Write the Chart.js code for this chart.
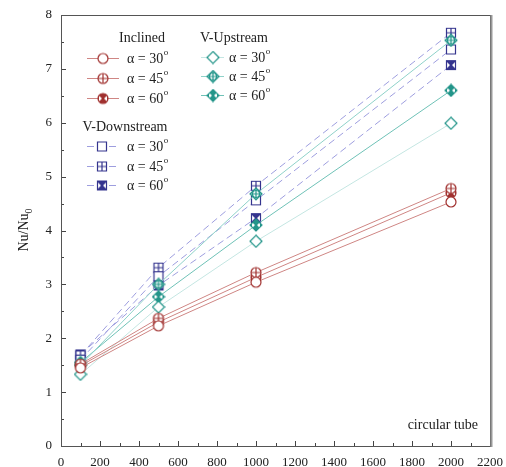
<!DOCTYPE html>
<html>
<head>
<meta charset="utf-8">
<script src="https://cdn.jsdelivr.net/npm/chart.js@4.4.0/dist/chart.umd.min.js"></script>
<style>
  html, body { margin: 0; padding: 0; background: #fff; }
</style>
</head>
<body>
<canvas id="graphCanvas" width="506" height="467"></canvas>
<script>
// Re values and Nu/Nu0 per configuration
var reynolds = [100, 500, 1000, 2000];
var inclined30 = [1.45, 2.23, 3.04, 4.53];
var inclined45 = [1.52, 2.37, 3.22, 4.78];
var inclined60 = [1.49, 2.30, 3.13, 4.70];
var upstream30 = [1.33, 2.58, 3.80, 5.99];
var upstream45 = [1.50, 3.00, 4.68, 7.53];
var upstream60 = [1.55, 2.77, 4.10, 6.60];
var downstream30 = [1.60, 3.15, 4.56, 7.36];
var downstream45 = [1.68, 3.31, 4.83, 7.67];
var downstream60 = [1.70, 2.98, 4.23, 7.07];
var xTicks = [0, 200, 400, 600, 800, 1000, 1200, 1400, 1600, 1800, 2000, 2200];
var yTicks = [0, 1, 2, 3, 4, 5, 6, 7, 8];
var angleLabels = ['\u03b1 = 30', '\u03b1 = 45', '\u03b1 = 60'];

var FONT = '"Liberation Serif", "DejaVu Serif", serif';
var RED = '#a0302e', TEAL = '#23958a', NAVY = '#34348e';

function shapePath(ctx, shape) {
  ctx.beginPath();
  if (shape === 'circle') {
    ctx.arc(7, 7, 5, 0, Math.PI * 2);
  } else if (shape === 'diamond') {
    ctx.moveTo(7, 1); ctx.lineTo(13, 7); ctx.lineTo(7, 13); ctx.lineTo(1, 7);
    ctx.closePath();
  } else {
    ctx.rect(2.5, 2.5, 9, 9);
  }
}

function makeMarker(shape, kind, color) {
  var c = document.createElement('canvas');
  c.width = 14; c.height = 14;
  var ctx = c.getContext('2d');
  ctx.strokeStyle = color;
  ctx.lineWidth = 1.2;
  shapePath(ctx, shape);
  ctx.fillStyle = (kind === 'hour') ? color : '#fff';
  ctx.fill();
  if (kind === 'plus') {
    ctx.save();
    shapePath(ctx, shape);
    ctx.clip();
    ctx.beginPath();
    ctx.moveTo(7, 0); ctx.lineTo(7, 14);
    ctx.moveTo(0, 7); ctx.lineTo(14, 7);
    ctx.stroke();
    if (shape === 'diamond') {
      ctx.beginPath();
      ctx.arc(7, 7, 3.5, 0, Math.PI * 2);
      ctx.stroke();
    }
    ctx.restore();
  } else if (kind === 'hour') {
    // white notches left and right, leaving an hourglass
    ctx.save();
    shapePath(ctx, shape);
    ctx.clip();
    ctx.fillStyle = '#fff';
    ctx.beginPath();
    ctx.moveTo(3, 4); ctx.lineTo(6, 7); ctx.lineTo(3, 10); ctx.closePath();
    ctx.moveTo(11, 4); ctx.lineTo(8, 7); ctx.lineTo(11, 10); ctx.closePath();
    ctx.fill();
    ctx.restore();
  }
  shapePath(ctx, shape);
  ctx.stroke();
  return c;
}

function series(label, data, marker, lineColor, dash) {
  return {
    label: label,
    data: data.map(function (v, i) { return { x: reynolds[i], y: v }; }),
    borderColor: lineColor,
    borderWidth: 1,
    borderDash: dash || [],
    pointStyle: marker,
    pointRadius: 6,
    pointHoverRadius: 6,
    fill: false,
    tension: 0
  };
}

var dsets = [
  series('Inclined 30', inclined30, makeMarker('circle', 'open', RED), '#cf8684'),
  series('Inclined 45', inclined45, makeMarker('circle', 'plus', RED), '#cf8684'),
  series('Inclined 60', inclined60, makeMarker('circle', 'hour', RED), '#cf8684'),
  series('V-Upstream 30', upstream30, makeMarker('diamond', 'open', TEAL), '#c4e6e2'),
  series('V-Upstream 45', upstream45, makeMarker('diamond', 'plus', TEAL), '#8fd2c9'),
  series('V-Upstream 60', upstream60, makeMarker('diamond', 'hour', TEAL), '#6fc2b7'),
  series('V-Downstream 30', downstream30, makeMarker('square', 'open', NAVY), '#9e9edf', [7, 4]),
  series('V-Downstream 45', downstream45, makeMarker('square', 'plus', NAVY), '#9e9edf', [7, 4]),
  series('V-Downstream 60', downstream60, makeMarker('square', 'hour', NAVY), '#9e9edf', [7, 4])
];

// legend groups: title position, line start/end, text x, row y
var legendGroups = [
  { title: 'Inclined', tx: 142, ty: 38, x0: 87, x1: 119, textX: 127, rows: [58, 78, 98], sets: [0, 1, 2] },
  { title: 'V-Upstream', tx: 234, ty: 38, x0: 201, x1: 224, textX: 229, rows: [57, 76, 95], sets: [3, 4, 5] },
  { title: 'V-Downstream', tx: 125, ty: 127, x0: 87, x1: 116, textX: 127, rows: [146, 166, 185], sets: [6, 7, 8] }
];

function drawAlpha(ctx, text, x, y) {
  ctx.font = '14px ' + FONT;
  ctx.textAlign = 'left';
  ctx.textBaseline = 'middle';
  ctx.fillText(text, x, y);
  var w = ctx.measureText(text).width;
  ctx.font = '9px ' + FONT;
  ctx.fillText('o', w + x + 0.5, y - 6);
}

var decorPlugin = {
  id: 'decor',
  afterDraw: function (chart) {
    var ctx = chart.ctx, a = chart.chartArea;
    var xs = chart.scales.x, ys = chart.scales.y;
    ctx.save();
    ctx.strokeStyle = '#444';
    ctx.lineWidth = 1;
    // inward ticks
    ctx.beginPath();
    for (var v = 0; v <= 2200; v += 100) {
      var px = Math.round(xs.getPixelForValue(v)) + 0.5;
      var len = (v % 200 === 0) ? 5 : 3;
      ctx.moveTo(px, a.bottom); ctx.lineTo(px, a.bottom - len);
    }
    for (var t = 0; t <= 8; t += 0.5) {
      var py = Math.round(ys.getPixelForValue(t)) + 0.5;
      var l2 = (t % 1 === 0) ? 5 : 3;
      ctx.moveTo(a.left, py); ctx.lineTo(a.left + l2, py);
    }
    ctx.stroke();
    // frame
    ctx.strokeStyle = '#555';
    ctx.strokeRect(Math.round(a.left) + 0.5, Math.round(a.top) + 0.5,
      Math.round(a.right - a.left), Math.round(a.bottom - a.top));
    ctx.strokeStyle = '#999';
    ctx.lineWidth = 2;
    ctx.beginPath();
    ctx.moveTo(Math.round(a.right) + 1.5, a.top); ctx.lineTo(Math.round(a.right) + 1.5, a.bottom + 1);
    ctx.stroke();

    // y axis title Nu/Nu0
    ctx.fillStyle = '#222';
    ctx.translate(24, 230);
    ctx.rotate(-Math.PI / 2);
    ctx.font = '14px ' + FONT;
    var w1 = ctx.measureText('Nu/Nu').width;
    ctx.font = '10px ' + FONT;
    var w2 = ctx.measureText('0').width;
    ctx.textAlign = 'left';
    ctx.textBaseline = 'alphabetic';
    ctx.font = '14px ' + FONT;
    ctx.fillText('Nu/Nu', -(w1 + w2) / 2, 4);
    ctx.font = '10px ' + FONT;
    ctx.fillText('0', -(w1 + w2) / 2 + w1, 8);
    ctx.setTransform(1, 0, 0, 1, 0, 0);

    // annotation
    ctx.font = '14px ' + FONT;
    ctx.textAlign = 'right';
    ctx.textBaseline = 'middle';
    ctx.fillText('circular tube', 478, 425);

    // legend
    legendGroups.forEach(function (g) {
      ctx.font = '14px ' + FONT;
      ctx.textAlign = 'center';
      ctx.fillStyle = '#222';
      ctx.fillText(g.title, g.tx, g.ty);
      g.sets.forEach(function (di, k) {
        var ds = dsets[di], y = g.rows[k];
        ctx.save();
        ctx.strokeStyle = ds.borderColor;
        ctx.lineWidth = 1;
        ctx.setLineDash(ds.borderDash);
        ctx.beginPath();
        ctx.moveTo(g.x0, y + 0.5); ctx.lineTo(g.x1, y + 0.5);
        ctx.stroke();
        ctx.restore();
        var cx = Math.round((g.x0 + g.x1) / 2);
        ctx.drawImage(ds.pointStyle, cx - 7, y - 6.5);
        ctx.fillStyle = '#222';
        drawAlpha(ctx, angleLabels[k], g.textX, y + 1);
      });
    });
    ctx.restore();
  }
};

var barGraph = new Chart(document.getElementById('graphCanvas'), {
  type: 'line',
  data: { datasets: dsets },
  plugins: [decorPlugin],
  options: {
    responsive: false,
    animation: false,
    devicePixelRatio: 1,
    layout: { padding: { top: 15, right: 16, left: 0, bottom: 0 } },
    plugins: { legend: { display: false }, tooltip: { enabled: false } },
    scales: {
      x: {
        type: 'linear', min: 0, max: 2200,
        afterBuildTicks: function (s) { s.ticks = xTicks.map(function (v) { return { value: v }; }); },
        afterFit: function (s) { s.height = 21; s.paddingLeft = 0; s.paddingRight = 0; },
        grid: { display: false, drawTicks: false },
        border: { display: true, color: '#444' },
        ticks: {
          color: '#222', font: { family: FONT, size: 13 }, padding: 9, maxRotation: 0, autoSkip: false,
          callback: function (v) { return String(v); }
        }
      },
      y: {
        type: 'linear', min: 0, max: 8,
        afterBuildTicks: function (s) { s.ticks = yTicks.map(function (v) { return { value: v }; }); },
        afterFit: function (s) { s.width = 61; s.paddingTop = 0; s.paddingBottom = 0; },
        grid: { display: false, drawTicks: false },
        border: { display: true, color: '#444' },
        ticks: {
          color: '#222', font: { family: FONT, size: 13 }, padding: 9,
          callback: function (v) { return String(v); }
        }
      }
    }
  }
});
</script>
</body>
</html>
